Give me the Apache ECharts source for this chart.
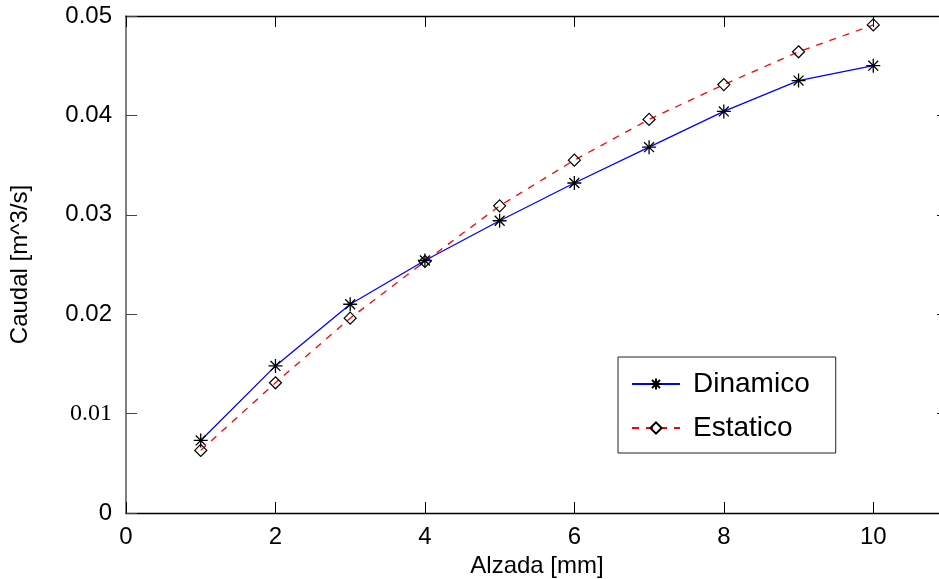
<!DOCTYPE html>
<html>
<head>
<meta charset="utf-8">
<script src="https://cdn.jsdelivr.net/npm/echarts@6/dist/echarts.min.js"></script>
<style>html,body{margin:0;padding:0;background:#fff;}#c{width:939px;height:579px;}</style>
</head>
<body>
<div id="c"></div>
<script>
var xValues = [1, 2, 3, 4, 5, 6, 7, 8, 9, 10];
var dinamico = [0.0073, 0.0148, 0.0210, 0.0254, 0.0294, 0.0332, 0.0368, 0.0404, 0.0435, 0.0450];
var estatico = [0.0063, 0.0131, 0.0196, 0.0253, 0.0309, 0.0355, 0.0396, 0.0431, 0.0464, 0.0491];
var yTickLabels = {'0': '0', '0.01': '{s|0.01}', '0.02': '0.02', '0.03': '0.03', '0.04': '0.04', '0.05': '0.05'};

var chart = echarts.init(document.getElementById('c'), null, {renderer: 'canvas'});
var font = 'Liberation Sans, Arial, Helvetica, sans-serif';
var starPath = 'path://M0,-10L0,10M-10,0L10,0M-7.07,-7.07L7.07,7.07M-7.07,7.07L7.07,-7.07';

function toPairs(ys) { return xValues.map(function (x, i) { return [x, ys[i]]; }); }

chart.setOption({
  animation: false,
  backgroundColor: '#fff',
  textStyle: {fontFamily: font},
  grid: {left: 126, right: -9, top: 16, bottom: 66, containLabel: false, outerBoundsMode: 'none'},
  legend: {
    orient: 'vertical',
    left: 618, top: 357,
    padding: [13, 26, 11, 13],
    itemGap: 16,
    itemWidth: 48, itemHeight: 14,
    backgroundColor: '#fff',
    borderColor: '#222', borderWidth: 1,
    borderRadius: 0,
    textStyle: {fontSize: 28, color: '#000', fontFamily: font, padding: [0, 0, 0, 8]},
    data: ['Dinamico', 'Estatico']
  },
  xAxis: [{
    type: 'value', min: 0, max: 11, interval: 2,
    name: 'Alzada [mm]', nameLocation: 'middle', nameGap: 40,
    nameTextStyle: {fontSize: 24, color: '#000', fontFamily: font},
    axisLine: {show: true, lineStyle: {color: '#000', width: 1.3}},
    axisTick: {show: true, inside: true, length: 11, lineStyle: {color: '#000', width: 1}},
    axisLabel: {fontSize: 24, color: '#000', margin: 12, showMaxLabel: false,
      formatter: function (v) { return v > 10 ? '' : String(v); }},
    splitLine: {show: false}
  }, {
    type: 'value', min: 0, max: 11, interval: 2, position: 'top',
    axisLine: {show: true, onZero: false, lineStyle: {color: '#000', width: 1.3}},
    axisTick: {show: true, inside: true, length: 11, lineStyle: {color: '#000'}},
    axisLabel: {show: false}, splitLine: {show: false}
  }],
  yAxis: [{
    type: 'value', min: 0, max: 0.05, interval: 0.01,
    name: 'Caudal [m^3/s]', nameLocation: 'middle', nameGap: 94, nameRotate: 90,
    nameTextStyle: {fontSize: 24, color: '#000', fontFamily: font},
    axisLine: {show: true, lineStyle: {color: '#555', width: 1.5}},
    axisTick: {show: true, inside: true, length: 11, lineStyle: {color: '#444'}},
    axisLabel: {fontSize: 24, color: '#000', margin: 14,
      formatter: function (v) {
        var k = String(Math.round(v * 100) / 100);
        return yTickLabels[k] !== undefined ? yTickLabels[k] : k;
      },
      rich: {s: {fontFamily: 'Liberation Serif, Times New Roman, serif', fontSize: 24, color: '#000'}}
    },
    splitLine: {show: false}
  }, {
    type: 'value', min: 0, max: 0.05, interval: 0.01, position: 'right',
    axisLine: {show: true, onZero: false, lineStyle: {color: '#000'}},
    axisTick: {show: true, inside: true, length: 11, lineStyle: {color: '#000'}},
    axisLabel: {show: false}, splitLine: {show: false}
  }],
  series: [{
    name: 'Dinamico', type: 'line',
    data: toPairs(dinamico),
    symbol: starPath, symbolSize: 14, showSymbol: true,
    itemStyle: {color: 'rgba(0,0,0,0)', borderColor: '#000', borderWidth: 1.3},
    lineStyle: {color: '#0000ff', width: 1.3, type: 'solid'},
    z: 3
  }, {
    name: 'Estatico', type: 'line',
    data: toPairs(estatico),
    symbol: 'diamond', symbolSize: 12, showSymbol: true,
    itemStyle: {color: 'rgba(0,0,0,0)', borderColor: '#000', borderWidth: 1.2},
    lineStyle: {color: '#ff0000', width: 1.3, type: [7, 7]},
    z: 2
  }]
});
</script>
</body>
</html>
